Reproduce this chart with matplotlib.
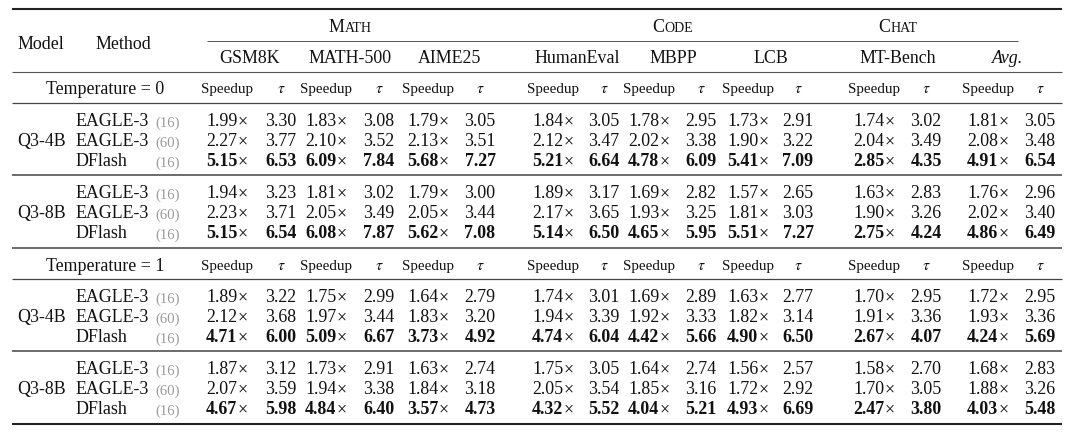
import matplotlib
matplotlib.use("Agg")
import matplotlib.pyplot as plt

# ---------------- data ----------------
groups = ["MATH", "CODE", "CHAT"]
benchmarks = ["GSM8K", "MATH-500", "AIME25", "HumanEval", "MBPP", "LCB", "MT-Bench", "Avg."]
temperatures = ["Temperature = 0", "Temperature = 1"]
models = ["Q3-4B", "Q3-8B"]
methods = ["EAGLE-3", "EAGLE-3", "DFlash"]
method_budget = ["(16)", "(60)", "(16)"]

# Temperature = 0
t0_q4_eagle16_sp = [1.99, 1.83, 1.79, 1.84, 1.78, 1.73, 1.74, 1.81]
t0_q4_eagle16_tau = [3.30, 3.08, 3.05, 3.05, 2.95, 2.91, 3.02, 3.05]
t0_q4_eagle60_sp = [2.27, 2.10, 2.13, 2.12, 2.02, 1.90, 2.04, 2.08]
t0_q4_eagle60_tau = [3.77, 3.52, 3.51, 3.47, 3.38, 3.22, 3.49, 3.48]
t0_q4_dflash_sp = [5.15, 6.09, 5.68, 5.21, 4.78, 5.41, 2.85, 4.91]
t0_q4_dflash_tau = [6.53, 7.84, 7.27, 6.64, 6.09, 7.09, 4.35, 6.54]

t0_q8_eagle16_sp = [1.94, 1.81, 1.79, 1.89, 1.69, 1.57, 1.63, 1.76]
t0_q8_eagle16_tau = [3.23, 3.02, 3.00, 3.17, 2.82, 2.65, 2.83, 2.96]
t0_q8_eagle60_sp = [2.23, 2.05, 2.05, 2.17, 1.93, 1.81, 1.90, 2.02]
t0_q8_eagle60_tau = [3.71, 3.49, 3.44, 3.65, 3.25, 3.03, 3.26, 3.40]
t0_q8_dflash_sp = [5.15, 6.08, 5.62, 5.14, 4.65, 5.51, 2.75, 4.86]
t0_q8_dflash_tau = [6.54, 7.87, 7.08, 6.50, 5.95, 7.27, 4.24, 6.49]

# Temperature = 1
t1_q4_eagle16_sp = [1.89, 1.75, 1.64, 1.74, 1.69, 1.63, 1.70, 1.72]
t1_q4_eagle16_tau = [3.22, 2.99, 2.79, 3.01, 2.89, 2.77, 2.95, 2.95]
t1_q4_eagle60_sp = [2.12, 1.97, 1.83, 1.94, 1.92, 1.82, 1.91, 1.93]
t1_q4_eagle60_tau = [3.68, 3.44, 3.20, 3.39, 3.33, 3.14, 3.36, 3.36]
t1_q4_dflash_sp = [4.71, 5.09, 3.73, 4.74, 4.42, 4.90, 2.67, 4.24]
t1_q4_dflash_tau = [6.00, 6.67, 4.92, 6.04, 5.66, 6.50, 4.07, 5.69]

t1_q8_eagle16_sp = [1.87, 1.73, 1.63, 1.75, 1.64, 1.56, 1.58, 1.68]
t1_q8_eagle16_tau = [3.12, 2.91, 2.74, 3.05, 2.74, 2.57, 2.70, 2.83]
t1_q8_eagle60_sp = [2.07, 1.94, 1.84, 2.05, 1.85, 1.72, 1.70, 1.88]
t1_q8_eagle60_tau = [3.59, 3.38, 3.18, 3.54, 3.16, 2.92, 3.05, 3.26]
t1_q8_dflash_sp = [4.67, 4.84, 3.57, 4.32, 4.04, 4.93, 2.47, 4.03]
t1_q8_dflash_tau = [5.98, 6.40, 4.73, 5.52, 5.21, 6.69, 3.80, 5.48]

blocks = [
    [  # temperature 0
        [(t0_q4_eagle16_sp, t0_q4_eagle16_tau), (t0_q4_eagle60_sp, t0_q4_eagle60_tau), (t0_q4_dflash_sp, t0_q4_dflash_tau)],
        [(t0_q8_eagle16_sp, t0_q8_eagle16_tau), (t0_q8_eagle60_sp, t0_q8_eagle60_tau), (t0_q8_dflash_sp, t0_q8_dflash_tau)],
    ],
    [  # temperature 1
        [(t1_q4_eagle16_sp, t1_q4_eagle16_tau), (t1_q4_eagle60_sp, t1_q4_eagle60_tau), (t1_q4_dflash_sp, t1_q4_dflash_tau)],
        [(t1_q8_eagle16_sp, t1_q8_eagle16_tau), (t1_q8_eagle60_sp, t1_q8_eagle60_tau), (t1_q8_dflash_sp, t1_q8_dflash_tau)],
    ],
]

# ---------------- style / layout ----------------
plt.rcParams["font.family"] = ["Liberation Serif", "DejaVu Serif"]
plt.rcParams["mathtext.fontset"] = "stix"

INK = "#111111"
GREY = "#9a9a9a"
FS = 12.9      # main font size (pt)
FS_SM = 10.8   # "Speedup" / tau header
FS_SC = 10.0   # small caps letters
FS_BUD = 10.6  # (16)/(60)

W, H = 1080, 435
fig = plt.figure(figsize=(W / 100, H / 100), dpi=100)
ax = fig.add_axes([0, 0, 1, 1])
ax.set_xlim(0, W)
ax.set_ylim(H, 0)
ax.axis("off")
renderer = fig.canvas.get_renderer()


def base_off(fs):
    return fs * 100 / 72 * 0.33


def compose(x, yc, parts, ha="center", fs_base=FS):
    """parts: list of (text, kwargs) or numeric gap in px."""
    items = []
    for p in parts:
        if isinstance(p, (int, float)):
            items.append((None, p))
            continue
        s, kw = p
        kw2 = dict(fontsize=FS, color=INK)
        kw2.update(kw)
        t = ax.text(0, yc + base_off(fs_base), s, va="baseline", ha="left", **kw2)
        items.append((t, t.get_window_extent(renderer).width))
    total = sum(w for _, w in items)
    if ha == "center":
        cur = x - total / 2
    elif ha == "left":
        cur = x
    else:
        cur = x - total
    for t, w in items:
        if t is not None:
            t.set_x(cur)
        cur += w


def rule(y, x0=12, x1=1062, lw=0.9, color="#444444"):
    ax.plot([x0, x1], [y, y], color=color, lw=lw, solid_capstyle="butt")


# column centers
sp_x = [227, 326, 428, 553, 649, 748, 874, 988]
tau_x = [281, 379, 480, 604, 701, 798, 926, 1040]
bench_x = [250, 350, 450, 577, 673, 771, 898, 1008]
group_x = [350, 673, 898]

# rules
rule(10, lw=1.5, color="#222222")
rule(42, x0=207, x1=1018, lw=0.7, color="#555555")
rule(73, lw=0.8, color="#555555")
rule(104, lw=0.9)
rule(176, lw=1.1)
rule(249, lw=1.1)
rule(280, lw=0.9)
rule(352, lw=1.1)
rule(425, lw=1.5, color="#222222")

# group headers (small caps)
for g, gx in zip(groups, group_x):
    compose(gx, 26, [(g[0], {}), (g[1:], dict(fontsize=FS_SC))])

# model / method headers
compose(41, 43, [("Model", {})])
compose(123, 43, [("Method", {})])

# benchmark headers
for b, bx in zip(benchmarks, bench_x):
    kw = dict(style="italic") if b.startswith("Avg") else {}
    compose(bx, 57, [(b, kw)])

temp_y = [88, 265]
block_top = [[104, 176], [280, 352]]
row_off = [16.5, 36.5, 56.5]

for ti, temp in enumerate(temperatures):
    ty = temp_y[ti]
    compose(105, ty, [(temp, {})])
    for sx, tx in zip(sp_x, tau_x):
        compose(sx, ty, [("Speedup", dict(fontsize=FS_SM))], fs_base=FS_SM)
        compose(tx, ty, [(r"$\tau$", dict(fontsize=FS_SM + 0.5))], fs_base=FS_SM)
    for mi, model in enumerate(models):
        top = block_top[ti][mi]
        compose(17, top + row_off[1], [(model, {})], ha="left")
        for ri in range(3):
            y = top + row_off[ri]
            compose(75, y, [(methods[ri], {})], ha="left")
            compose(180, y, [(method_budget[ri], dict(fontsize=FS_BUD, color=GREY))], ha="right")
            sp_vals, tau_vals = blocks[ti][mi][ri]
            bold = methods[ri] == "DFlash"
            wt = dict(weight="bold") if bold else {}
            for k in range(len(sp_x)):
                compose(sp_x[k], y, [(f"{sp_vals[k]:.2f}", wt), 0.3, ("\u00d7", {})])
                compose(tau_x[k], y, [(f"{tau_vals[k]:.2f}", wt)])

fig.savefig("out.png", dpi=100)
